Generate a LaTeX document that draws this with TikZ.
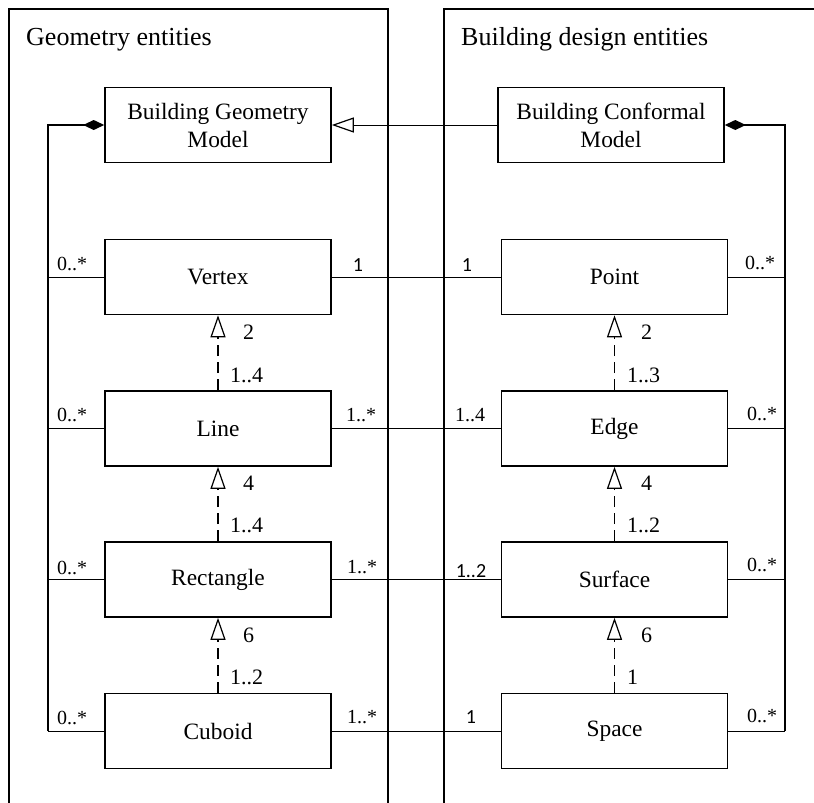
\documentclass[tikz,border=0pt]{standalone}
\usepackage{fontspec}
\setmainfont{Liberation Serif}
\newfontfamily\sansf{Carlito}
\usetikzlibrary{arrows.meta}
\begin{document}
\begin{tikzpicture}[x=1pt,y=-1pt,
  cls/.style={draw, line width=1.6pt, minimum width=226pt, minimum height=75pt, inner sep=0pt,
    font=\fontsize{23.4}{28}\selectfont, align=center},
  mult/.style={inner sep=0pt, font=\fontsize{20}{24}\selectfont},
  smult/.style={inner sep=0pt, font=\sansf\fontsize{20}{24}\selectfont},
  glab/.style={inner sep=0pt, anchor=west, font=\fontsize{22}{26}\selectfont},
  sglab/.style={inner sep=0pt, anchor=west, font=\sansf\fontsize{22}{26}\selectfont},
  ptitle/.style={anchor=base west, inner sep=0pt, font=\fontsize{26}{30}\selectfont},
  frameline/.style={line width=1.6pt},
  assoc/.style={line width=1pt},
  compline/.style={line width=1.6pt},
  gen/.style={line width=1.2pt, dash pattern=on 11pt off 6pt,
    -{Triangle[open,length=22pt,width=15pt,line width=1.2pt]}},
  realize/.style={line width=1pt, -{Triangle[open,length=22pt,width=15pt,line width=1.2pt]}},
  compo/.style={compline, -{Diamond[length=21pt,width=10pt]}}
]
\useasboundingbox (0,0) rectangle (814,803);

% package frames
\draw[frameline] (9,803) -- (9,9) -- (388,9) -- (388,803);
\draw[frameline] (444,803) -- (444,9) -- (814,9);
\node[ptitle] (t1) at (26,45) {Geometry entities};
\node[ptitle] (t2) at (461,45) {Building design entities};

% classes
\node[cls] (bgm) at (218,125) {Building Geometry\\Model};
\node[cls] (bcm) at (611,125) {Building Conformal\\Model};
\node[cls] (vertex) at (218,277) {Vertex};
\node[cls] (line) at (218,428.5) {Line};
\node[cls] (rect) at (218,579.5) {Rectangle};
\node[cls] (cuboid) at (218,731) {Cuboid};
\node[cls] (point) at (614.5,277) {Point};
\node[cls] (edge) at (614.5,428.5) {Edge};
\node[cls] (surface) at (614.5,579.5) {Surface};
\node[cls] (space) at (614.5,731) {Space};

% helper columns
\coordinate (lx) at (48,0);
\coordinate (rx) at (785,0);

% generalization BCM -> BGM
\draw[realize] (bcm.west) -- (bgm.east);

% composition left
\draw[compo] (cuboid.west -| lx) -- (bgm.west -| lx) -- (bgm.west);
\draw[assoc] (vertex.west -| lx) -- (vertex.west);
\draw[assoc] (line.west -| lx) -- (line.west);
\draw[assoc] (rect.west -| lx) -- (rect.west);
\draw[assoc] (cuboid.west -| lx) -- (cuboid.west);

% composition right
\draw[compo] (space.east -| rx) -- (bcm.east -| rx) -- (bcm.east);
\draw[assoc] (point.east -| rx) -- (point.east);
\draw[assoc] (edge.east -| rx) -- (edge.east);
\draw[assoc] (surface.east -| rx) -- (surface.east);
\draw[assoc] (space.east -| rx) -- (space.east);

% associations across
\draw[assoc] (vertex.east) -- (point.west);
\draw[assoc] (line.east) -- (edge.west);
\draw[assoc] (rect.east) -- (surface.west);
\draw[assoc] (cuboid.east) -- (space.west);

% dashed generalizations
\draw[gen] (line.north) -- (vertex.south);
\draw[gen] (rect.north) -- (line.south);
\draw[gen] (cuboid.north) -- (rect.south);
\draw[gen] (edge.north) -- (point.south);
\draw[gen] (surface.north) -- (edge.south);
\draw[gen] (space.north) -- (surface.south);

% multiplicities left
\node[mult] (m1) at (72,264) {0..*};
\node[mult] (m2) at (72,415) {0..*};
\node[mult] (m3) at (72,568) {0..*};
\node[mult] (m4) at (72,718) {0..*};
\node[smult] (m5) at (358,265) {1};
\node[mult] (m6) at (361,415) {1..*};
\node[mult] (m7) at (362,567) {1..*};
\node[mult] (m8) at (362,717) {1..*};
% multiplicities right
\node[smult] (n1) at (467,265) {1};
\node[mult] (n2) at (470,415) {1..4};
\node[smult] (n3) at (471,571) {1..2};
\node[smult] (n4) at (471,717) {1};
\node[mult] (n5) at (760,263) {0..*};
\node[mult] (n6) at (762,414) {0..*};
\node[mult] (n7) at (762,565) {0..*};
\node[mult] (n8) at (762,716) {0..*};

% dashed labels left
\node[glab] (g1) at (243,332) {2};
\node[glab] (g2) at (230,375) {1..4};
\node[glab] (g3) at (243,483) {4};
\node[glab] (g4) at (230,525) {1..4};
\node[glab] (g5) at (243,635) {6};
\node[glab] (g6) at (230,677) {1..2};
% dashed labels right
\node[glab] (h1) at (641,332) {2};
\node[glab] (h2) at (627,375) {1..3};
\node[glab] (h3) at (641,483) {4};
\node[glab] (h4) at (627,525) {1..2};
\node[glab] (h5) at (641,635) {6};
\node[glab] (h6) at (627,677) {1};
\end{tikzpicture}
\end{document}
